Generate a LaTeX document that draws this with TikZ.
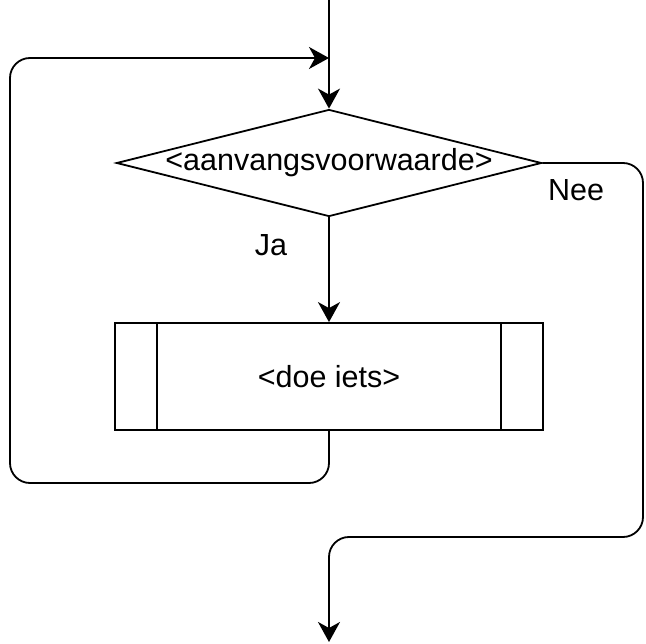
\documentclass[tikz,border=0pt]{standalone}
\usepackage{fontspec}
\setmainfont{Liberation Sans}
\usetikzlibrary{arrows.meta,shapes.geometric}

\tikzset{
  flow/.style={line width=1.8pt, draw=black},
  arr/.style={flow, -{Stealth[length=20pt, width=22pt, inset=6pt]}},
  loopline/.style={arr, rounded corners=20pt},
  txt/.style={font=\fontsize{30.5}{35}\selectfont, text=black},
  decision/.style={diamond, flow, inner sep=0pt, minimum width=425pt, minimum height=107pt, txt},
  subproc/.style={rectangle, flow, inner sep=0pt, minimum width=428pt, minimum height=107pt, txt},
}

\begin{document}
\begin{tikzpicture}[x=1pt, y=-1pt]
  \useasboundingbox (0,0) rectangle (646,644);

  % entry point and the condition
  \coordinate (entry) at (329,0);
  \node[decision] (cond) at (329,163) {\makebox[0pt]{<aanvangsvoorwaarde>}};

  % the loop body, a predefined process
  \node[subproc] (body) at (329,376.5) {<doe iets>};
  \draw[flow] ([xshift=43pt]body.north west) -- ([xshift=43pt]body.south west);
  \draw[flow] ([xshift=-43pt]body.north east) -- ([xshift=-43pt]body.south east);

  % bend points of the connectors
  \coordinate (joinpt) at (329,58);
  \coordinate (backlow) at (10,483);
  \coordinate (exitbend) at (643,537);
  \coordinate (exitpt) at (329,642);

  % connectors
  \draw[arr] (entry) -- (cond.north);
  \draw[arr] (cond.south) -- (body.north);
  \draw[loopline] (body.south) |- (backlow) |- (joinpt);
  \draw[loopline] (cond.east) -| (exitbend) -| (exitpt);

  % labels
  \node[txt] (ja) at (271,245) {Ja};
  \node[txt] (nee) at (576,190) {Nee};
\end{tikzpicture}
\end{document}
